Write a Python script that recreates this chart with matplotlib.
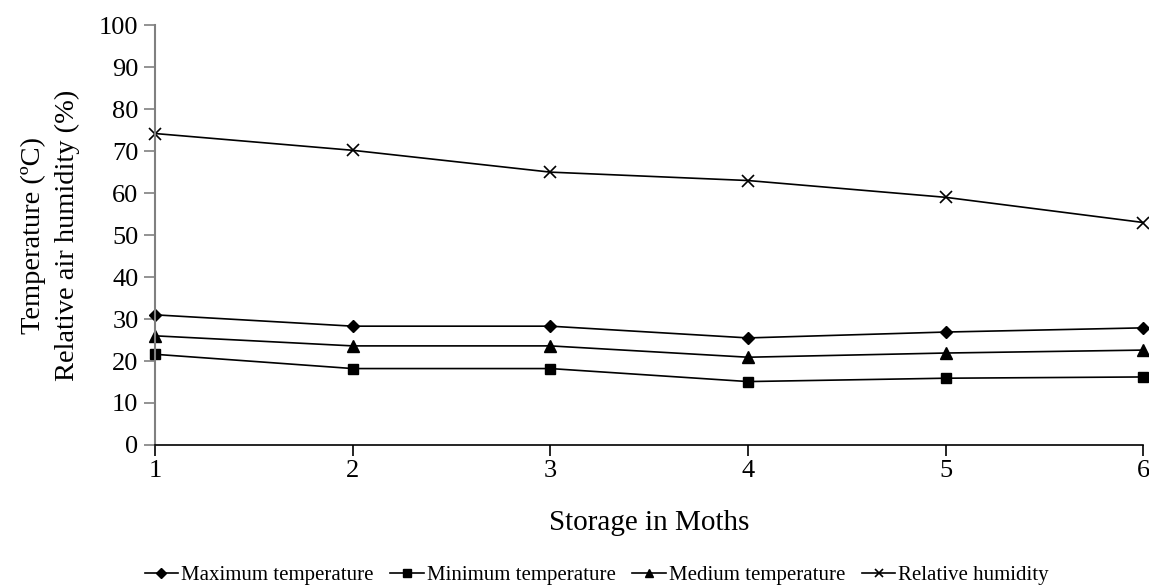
import matplotlib

matplotlib.use("Agg")
import matplotlib.pyplot as plt

plt.rcParams["font.family"] = ["Liberation Serif", "DejaVu Serif"]

months = [1, 2, 3, 4, 5, 6]
max_temp = [31.0, 28.3, 28.3, 25.5, 26.9, 27.9]
min_temp = [21.6, 18.2, 18.2, 15.1, 15.9, 16.2]
med_temp = [26.0, 23.6, 23.6, 20.9, 21.9, 22.6]
humidity = [74.2, 70.2, 65.0, 63.0, 59.0, 53.0]

fig = plt.figure(figsize=(11.49, 5.87), dpi=100)
ax = fig.add_axes([0.135, 0.242, 0.86, 0.715])

line_kw = dict(color="black", linewidth=1.2, clip_on=False)
ax.plot(months, max_temp, marker="D", markersize=6, label="Maximum temperature", **line_kw)
ax.plot(months, min_temp, marker="s", markersize=7, label="Minimum temperature", **line_kw)
ax.plot(months, med_temp, marker="^", markersize=8, label="Medium temperature", **line_kw)
ax.plot(months, humidity, marker="x", markersize=8, markeredgewidth=1.2,
        label="Relative humidity", **line_kw)

ax.set_xlim(1, 6)
ax.set_ylim(0, 100)
ax.set_yticks(range(0, 101, 10))
ax.set_xticks(months)

for side in ["top", "right"]:
    ax.spines[side].set_visible(False)
ax.spines["left"].set_color("#808080")
ax.spines["left"].set_linewidth(1.5)
ax.spines["bottom"].set_color("black")
ax.spines["bottom"].set_linewidth(1.2)

ax.tick_params(axis="y", direction="out", length=8, width=1.2, color="#808080",
               labelsize=19, pad=4)
ax.tick_params(axis="x", direction="out", length=8, width=1.2, color="black",
               labelsize=19, pad=3)

ax.set_xlabel("Storage in Moths", fontsize=21, labelpad=20)
ax.set_ylabel("Temperature (ºC)\nRelative air humidity (%)", fontsize=20.5,
              labelpad=14, linespacing=1.45)

ax.legend(loc="center", bbox_to_anchor=(0.447, -0.31), ncol=4, frameon=False,
          fontsize=15, handlelength=1.6, handletextpad=0.15, columnspacing=0.8,
          borderaxespad=0, borderpad=0, markerscale=0.8)

fig.savefig("out.png", dpi=100)
